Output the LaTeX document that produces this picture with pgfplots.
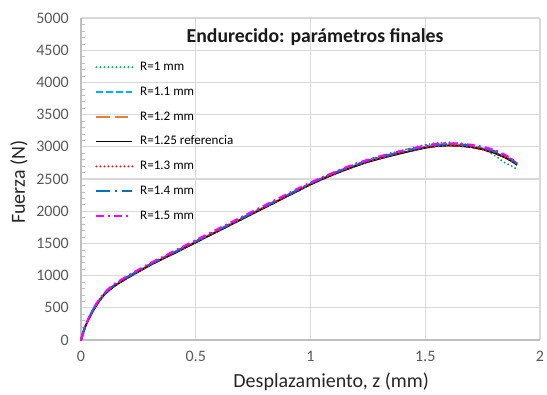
\documentclass[border=0pt]{standalone}
\usepackage{fontspec}
\setmainfont{Carlito}
\usepackage{pgfplots}
\usepackage{pgfplotstable}
\pgfplotsset{compat=1.18}
\definecolor{cgreen}{HTML}{00B050}
\definecolor{ccyan}{HTML}{00B0F0}
\definecolor{corange}{HTML}{ED7D31}
\definecolor{cred}{HTML}{FF0000}
\definecolor{cblue}{HTML}{0070C0}
\definecolor{cmag}{HTML}{FF00FF}
\definecolor{tickgray}{HTML}{595959}
\definecolor{gridgray}{HTML}{D9D9D9}
\definecolor{axgray}{HTML}{BFBFBF}
\pgfplotstableread{
x g c o k r b m
0 0 0 0 0 0 0 0
0.01 125 120 122 120 120 125 130
0.02 225 220 222 220 220 228 235
0.03 305 302 302 300 300 310 315
0.04 375 372 372 370 370 380 390
0.05 445 442 442 440 440 452 460
0.06 505 502 502 500 500 515 525
0.08 615 612 612 610 610 625 635
0.1 705 705 703 700 700 715 725
0.125 790 785 785 780 780 795 810
0.15 860 855 853 850 850 865 880
0.2 970 965 963 960 960 975 990
0.25 1070 1068 1065 1060 1060 1075 1090
0.3 1170 1168 1165 1160 1160 1175 1190
0.35 1260 1258 1255 1250 1250 1265 1280
0.4 1345 1345 1340 1335 1335 1352 1370
0.45 1435 1435 1430 1425 1425 1442 1460
0.5 1525 1525 1520 1515 1515 1532 1550
0.55 1615 1615 1610 1605 1605 1622 1640
0.6 1705 1705 1700 1695 1695 1712 1730
0.65 1795 1795 1790 1785 1785 1802 1820
0.7 1885 1885 1880 1875 1875 1892 1910
0.75 1975 1975 1970 1965 1965 1982 2000
0.8 2065 2065 2060 2055 2055 2072 2090
0.85 2155 2155 2150 2145 2145 2162 2180
0.9 2245 2245 2240 2235 2235 2252 2270
0.95 2335 2335 2330 2325 2325 2342 2360
1.0 2425 2425 2420 2415 2415 2432 2445
1.05 2510 2505 2500 2495 2495 2512 2525
1.1 2590 2582 2576 2570 2570 2588 2600
1.15 2665 2652 2646 2640 2640 2660 2675
1.2 2735 2718 2711 2705 2705 2725 2740
1.25 2795 2778 2771 2765 2765 2785 2800
1.3 2850 2830 2822 2815 2815 2835 2850
1.35 2900 2875 2867 2860 2860 2880 2895
1.4 2945 2920 2912 2905 2905 2925 2940
1.45 2990 2960 2952 2945 2945 2965 2980
1.5 3030 3000 2992 2985 2985 3005 3020
1.55 3060 3025 3017 3010 3010 3030 3045
1.6 3070 3035 3028 3020 3020 3040 3055
1.65 3055 3030 3023 3015 3015 3035 3050
1.7 3025 3010 3003 2995 2995 3018 3030
1.75 2975 2975 2968 2960 2960 2985 3000
1.8 2870 2915 2915 2905 2905 2935 2955
1.85 2745 2840 2840 2830 2830 2860 2870
1.875 2705 2790 2795 2780 2780 2805 2815
1.9 2650 2730 2740 2720 2720 2740 2750
}\datatable
\begin{document}
\begin{tikzpicture}
\begin{axis}[
  scale only axis,
  width=344.25pt, height=241.5pt,
  xmin=0, xmax=2, ymin=0, ymax=5000,
  xtick={0,0.5,...,2}, ytick={0,500,...,5000},
  minor y tick num=4,
  axis x line*=bottom, axis y line*=left,
  axis line style={draw=axgray, line width=0.8pt, -},
  grid=major, major grid style={draw=gridgray, line width=0.8pt},
  every tick/.style={draw=axgray},
  major tick length=0pt, minor tick length=3pt,
  tick align=inside,
  xticklabel style={font=\fontsize{12}{14}\selectfont, text=tickgray, anchor=north, inner sep=0pt, yshift=-8pt},
  yticklabel style={font=\fontsize{12}{14}\selectfont, text=tickgray, anchor=east, inner sep=0pt, xshift=-9pt},
  /pgf/number format/assume math mode=true,
  /pgf/number format/1000 sep={},
  xticklabel={\pgfmathprintnumber[fixed,precision=1]{\tick}},
  xlabel={Desplazamiento, z (mm)},
  ylabel={Fuerza (N)},
  xlabel style={font=\fontsize{15}{17}\selectfont, text=black!85, at={(axis description cs:0.545,-0.13)}, anchor=center},
  ylabel style={font=\fontsize{15}{17}\selectfont, text=black!85, at={(axis description cs:-0.135,0.49)}, anchor=center},
  legend style={draw=none, fill=none, at={(rel axis cs:0.022,0.875)}, anchor=north west,
    font=\fontsize{9.8}{11}\selectfont, row sep=9.6pt,
    nodes={inner sep=0pt, text height=7pt, text depth=2pt},
    /tikz/every odd column/.append style={column sep=5pt}},
  legend cell align=left,
  legend image code/.code={\draw[#1] (0pt,0pt) -- (27pt,0pt);},
  clip=false,
]
\addplot[cgreen, line width=1.6pt, line cap=round, dash pattern=on 0pt off 3pt] table[x=x,y=g]{\datatable};
\addlegendentry{R=1 mm}
\addplot[ccyan, line width=1.6pt, dash pattern=on 5pt off 2.5pt] table[x=x,y=c]{\datatable};
\addlegendentry{R=1.1 mm}
\addplot[corange, line width=1.6pt, dash pattern=on 10pt off 4pt] table[x=x,y=o]{\datatable};
\addlegendentry{R=1.2 mm}
\addplot[black, line width=1.3pt] table[x=x,y=k]{\datatable};
\addlegendentry{R=1.25 referencia}
\addplot[cred, line width=1.6pt, line cap=round, dash pattern=on 0pt off 3pt] table[x=x,y=r]{\datatable};
\addlegendentry{R=1.3 mm}
\addplot[cblue, line width=1.6pt, dash pattern=on 10pt off 4pt on 1.5pt off 4pt] table[x=x,y=b]{\datatable};
\addlegendentry{R=1.4 mm}
\addplot[cmag, line width=1.6pt, dash pattern=on 6pt off 3pt on 1.5pt off 3pt] table[x=x,y=m]{\datatable};
\addlegendentry{R=1.5 mm}
\node[font=\bfseries\fontsize{14.8}{17}\selectfont, text=black!90] at (rel axis cs:0.51,0.94) {Endurecido: parámetros finales};
\end{axis}
\pgfresetboundingbox
\useasboundingbox (-60.75pt,-40.5pt) rectangle (349.5pt,255pt);
\end{tikzpicture}
\end{document}
